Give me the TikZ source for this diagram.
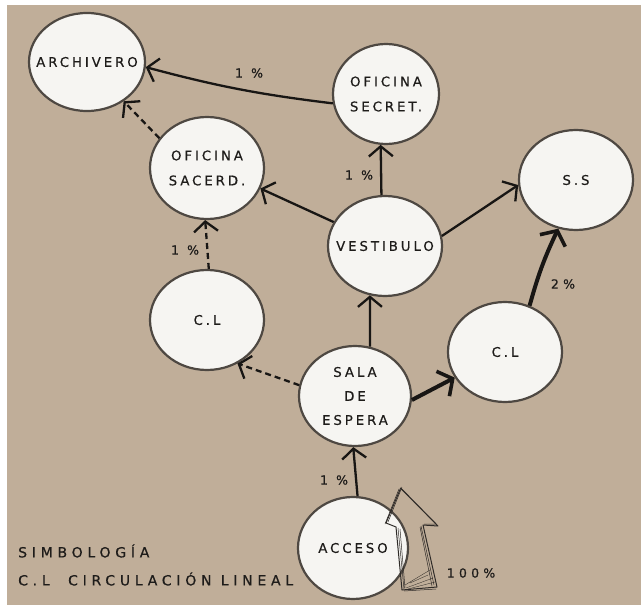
\documentclass[tikz,border=0pt]{standalone}
\usepackage{fontspec}
\setmainfont{DejaVu Sans}[LetterSpace=22,FakeBold=0.5]
\newfontfamily\legendfont{DejaVu Sans}[LetterSpace=34,FakeBold=0.6]
\usetikzlibrary{arrows.meta,shapes.geometric}
\definecolor{tan}{RGB}{192,174,153}
\definecolor{bubble}{RGB}{246,245,242}
\definecolor{rim}{RGB}{78,72,66}
\definecolor{ink}{RGB}{24,22,20}
\definecolor{txt}{RGB}{30,28,26}
\newcommand{\cb}[1]{\makebox[0pt][c]{#1}}
\tikzset{
  room/.style={ellipse,draw=rim,line width=2.2pt,fill=bubble,inner sep=0pt,
    minimum width=114pt,minimum height=100pt,align=center,text=txt,
    font=\fontsize{13.3}{25}\selectfont},
  flow/.style={draw=ink,line width=2.3pt,-{Straight Barb[length=10pt,width=24pt,line width=2.3pt]}},
  dflow/.style={flow,dash pattern=on 6pt off 4pt},
  tflow/.style={draw=ink,line width=4pt,-{Straight Barb[length=11pt,width=28pt,line width=3.6pt]}},
  pct/.style={text=txt,font=\legendfont\fontsize{12.5}{14}\selectfont},
  legend/.style={anchor=west,text=txt,font=\legendfont\fontsize{14}{15}\selectfont,inner sep=0pt}
}
\begin{document}
\begin{tikzpicture}[x=1pt,y=-1pt]
\useasboundingbox (0,0) rectangle (641,605);
\fill[white] (0,0) rectangle (641,605);
\fill[tan] (7,5) rectangle (641,605);

\node[room,minimum width=116pt,minimum height=98pt] (arch) at (87,62) {\cb{ARCHIVERO}};
\node[room,minimum width=106pt] (secret) at (386,94) {\cb{OFICINA}\\\cb{SECRET.}};
\node[room,minimum height=102pt] (sacerd) at (207,168) {\cb{OFICINA}\\\cb{SACERD.}};
\node[room] (ss) at (576,180) {\cb{S.S}};
\node[room] (vest) at (385,246) {\cb{VESTIBULO}};
\node[room] (cla) at (207,320) {\cb{C.L}};
\node[room] (clb) at (505,352) {\cb{C.L}};
\node[room,minimum width=112pt,font=\fontsize{13.3}{24}\selectfont] (sala) at (355,396) {\cb{SALA}\\\cb{DE}\\\cb{ESPERA}};
\node[room,minimum width=110pt,minimum height=102pt] (acceso) at (353,548) {\cb{ACCESO}};

\draw[flow] (secret.190) to[bend left=4] (arch.355);
\draw[dflow] (sacerd.148) -- (arch.313);
\draw[flow] (vest.155) -- (sacerd.339);
\draw[flow] (vest.94) -- (secret.264);
\draw[flow] (vest.10) -- (ss.185);
\draw[dflow] (cla.88) -- (sacerd.268);
\draw[flow] (sala.73) -- (vest.253);
\draw[dflow] (sala.169) -- (cla.305);
\draw[tflow] (sala.356) -- (clb.207);
\draw[tflow] (clb.62) to[bend left=5] (ss.250);
\draw[flow] (acceso.85) -- (sala.268);

\node[pct] (p1) at (249,73) {1 \%};
\node[pct] (p2) at (359,175) {1 \%};
\node[pct] (p3) at (185,250) {1 \%};
\node[pct] (p4) at (563,284) {2\%};
\node[pct] (p5) at (334,480) {1 \%};
\node[pct] (p6) at (471,573) {100\%};

\draw[rim!60!black,line width=1pt,line join=round]
  (400.7,488) -- (386,523) -- (396,527) -- (402,590) -- (437,587) -- (423,525) -- (438,526) -- cycle;
\draw[rim!60!black,line width=0.5pt,line join=round]
  (402,487) -- (388,522) (398,528) -- (404,589) (404,591) -- (436,589) (434,585) -- (421,526) (424,524) -- (436,524) -- (401,489)
  (399,489) -- (385,524) (400,529) -- (405,588) (432,586) -- (420,527);
\draw[rim!50!black,line width=0.3pt]
  (405,585) -- (430,570) (406,588) -- (433,578) (408,589) -- (435,582) (410,583) -- (428,575);

\node[legend] (sym) at (18,551) {SIMBOLOGÍA};
\node[legend] (cl) at (18,579) {C.L\ \ CIRCULACIÓN LINEAL};
\end{tikzpicture}
\end{document}
